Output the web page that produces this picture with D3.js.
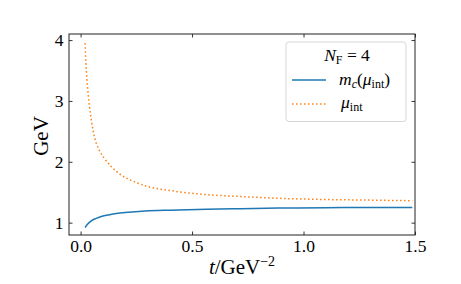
<!DOCTYPE html>
<html>
<head>
<meta charset="utf-8">
<script src="https://cdn.jsdelivr.net/npm/d3@7/dist/d3.min.js"></script>
<style>
body { margin: 0; background: #fff; }
text { font-family: "Liberation Serif", "DejaVu Serif", serif; fill: #000; }
</style>
</head>
<body>
<div id="chart"></div>
<script>
var width = 461,
height = 284;

// values
var t_mu = [0.020, 0.024, 0.028, 0.033, 0.040, 0.048, 0.055, 0.070, 0.085, 0.108, 0.138, 0.183, 0.243, 0.295, 0.416, 0.566, 0.716, 0.888, 1.1, 1.3, 1.488];
var mu_int = [3.95, 3.62, 3.38, 3.15, 2.90, 2.69, 2.53, 2.31, 2.18, 2.05, 1.92, 1.78, 1.67, 1.60, 1.52, 1.46, 1.43, 1.40, 1.38, 1.37, 1.36];
var t_mc = [0.020, 0.030, 0.048, 0.070, 0.093, 0.130, 0.168, 0.230, 0.288, 0.400, 0.566, 0.720, 0.888, 1.1, 1.3, 1.488];
var m_c = [0.92, 0.97, 1.03, 1.07, 1.10, 1.13, 1.155, 1.175, 1.19, 1.205, 1.22, 1.23, 1.24, 1.245, 1.25, 1.25];
var x_ticks = [0, 0.5, 1.0, 1.5];
var y_ticks = [1, 2, 3, 4];

var ax_left = 69, ax_right = 415, ax_top = 34, ax_bottom = 235;

var x = d3.scaleLinear().domain([-0.052, 1.5]).range([ax_left, ax_right]);
var y = d3.scaleLinear().domain([0.797, 4.1]).range([ax_bottom, ax_top]);

var svg = d3.select("#chart")
.append("svg")
.attr("width", width)
.attr("height", height);

var clip = svg.append("defs").append("clipPath").attr("id", "clip");
clip.append("rect")
.attr("x", ax_left).attr("y", ax_top)
.attr("width", ax_right - ax_left).attr("height", ax_bottom - ax_top);

var line = d3.line()
.x(function(d) { return x(d[0]); })
.y(function(d) { return y(d[1]); })
.curve(d3.curveMonotoneX);

var plot = svg.append("g").attr("clip-path", "url(#clip)");

plot.append("path")
.datum(d3.zip(t_mc, m_c))
.attr("d", line)
.attr("fill", "none")
.attr("stroke", "#1f77b4")
.attr("stroke-width", 1.5);

plot.append("path")
.datum(d3.zip(t_mu, mu_int))
.attr("d", line)
.attr("fill", "none")
.attr("stroke", "#ff7f0e")
.attr("stroke-width", 1.5)
.attr("stroke-dasharray", "1.5,2.5");

// axes, ticks inward on all sides
var tickLen = 3.5;
function styleAxis(g) {
  g.select(".domain").remove();
  g.selectAll("line").attr("stroke", "#000").attr("stroke-width", 0.8);
  g.selectAll("text").attr("font-size", "17.5px").attr("fill", "#000");
}

svg.append("g")
.attr("transform", "translate(0," + ax_bottom + ")")
.call(d3.axisBottom(x).tickValues(x_ticks).tickFormat(d3.format(".1f")).tickSizeInner(-tickLen).tickPadding(5))
.call(styleAxis);

svg.append("g")
.attr("transform", "translate(0," + ax_top + ")")
.call(d3.axisTop(x).tickValues(x_ticks).tickFormat("").tickSizeInner(-tickLen))
.call(styleAxis);

svg.append("g")
.attr("transform", "translate(" + ax_left + ",0)")
.call(d3.axisLeft(y).tickValues(y_ticks).tickFormat(d3.format("d")).tickSizeInner(-tickLen).tickPadding(5.5))
.call(styleAxis);

svg.append("g")
.attr("transform", "translate(" + ax_right + ",0)")
.call(d3.axisRight(y).tickValues(y_ticks).tickFormat("").tickSizeInner(-tickLen))
.call(styleAxis);

// frame
svg.append("rect")
.attr("x", ax_left).attr("y", ax_top)
.attr("width", ax_right - ax_left).attr("height", ax_bottom - ax_top)
.attr("fill", "none")
.attr("stroke", "#222")
.attr("stroke-width", 1);

// axis labels
var xl = svg.append("text")
.attr("x", 242)
.attr("y", 274)
.attr("text-anchor", "middle")
.attr("font-size", "21px");
xl.append("tspan").attr("font-style", "italic").text("t");
xl.append("tspan").text("/GeV");
xl.append("tspan").attr("font-size", "14px").attr("dy", -8).text("−2");

svg.append("text")
.attr("transform", "translate(48," + 136 + ") rotate(-90)")
.attr("text-anchor", "middle")
.attr("font-size", "21px")
.text("GeV");

// legend
var legend = svg.append("g");
legend.append("rect")
.attr("x", 286).attr("y", 42)
.attr("width", 120).attr("height", 79.5)
.attr("rx", 3)
.attr("fill", "#fff")
.attr("fill-opacity", 0.8)
.attr("stroke", "#d6d6d6")
.attr("stroke-width", 1);

var title = legend.append("text")
.attr("x", 347).attr("y", 61)
.attr("text-anchor", "middle")
.attr("font-size", "17.5px");
title.append("tspan").attr("font-style", "italic").text("N");
title.append("tspan").attr("font-size", "12px").attr("dy", 3).text("F");
title.append("tspan").attr("dy", -3).text(" = 4");

legend.append("line")
.attr("x1", 292).attr("x2", 326)
.attr("y1", 80).attr("y2", 80)
.attr("stroke", "#1f77b4").attr("stroke-width", 1.5);
legend.append("line")
.attr("x1", 292).attr("x2", 326)
.attr("y1", 104).attr("y2", 104)
.attr("stroke", "#ff7f0e").attr("stroke-width", 1.5)
.attr("stroke-dasharray", "1.5,2.5");

var l1 = legend.append("text")
.attr("x", 339).attr("y", 85)
.attr("font-size", "17.5px");
l1.append("tspan").attr("font-style", "italic").text("m");
l1.append("tspan").attr("font-style", "italic").attr("font-size", "12px").attr("dy", 3).text("c");
l1.append("tspan").attr("dy", -3).text("(");
l1.append("tspan").attr("font-style", "italic").text("μ");
l1.append("tspan").attr("font-size", "12px").attr("dy", 3).text("int");
l1.append("tspan").attr("dy", -3).text(")");

var l2 = legend.append("text")
.attr("x", 341).attr("y", 108)
.attr("font-size", "17.5px");
l2.append("tspan").attr("font-style", "italic").text("μ");
l2.append("tspan").attr("font-size", "12px").attr("dy", 3).text("int");
</script>
</body>
</html>
